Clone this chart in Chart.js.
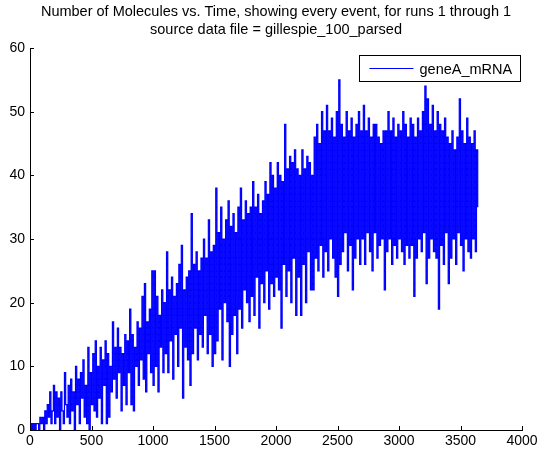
<!DOCTYPE html>
<html>
<head>
<meta charset="utf-8">
<script src="https://cdn.jsdelivr.net/npm/chart.js@4.4.0/dist/chart.umd.min.js"></script>
<style>
  html, body { margin: 0; padding: 0; background: #fff; }
  canvas { display: block; }
</style>
</head>
<body>
<canvas id="molChart" width="542" height="453"></canvas>
<script>
const titleLines = [
  "Number of Molecules vs. Time, showing every event, for runs 1 through 1",
  "source data file = gillespie_100_parsed",
];
const seriesName = "geneA_mRNA";
const xLimits = [0, 4000];
const yLimits = [0, 60];
const xTickStep = 500;
const yTickStep = 10;

// one sample every 10 time units (0 .. 3640)
const timeStep = 10;
const geneAmRNA = [
  0, 1, 0, 1, 0, 1, 1, 0, 2, 1,
  2, 0, 3, 1, 4, 2, 6, 1, 3, 7,
  1, 6, 2, 5, 0, 6, 3, 1, 9, 4,
  2, 7, 1, 8, 3, 6, 0, 10, 4, 8,
  1, 9, 5, 11, 2, 7, 1, 13, 0, 9,
  4, 12, 3, 14, 2, 10, 5, 13, 1, 11,
  7, 14, 1, 12, 2, 10, 6, 17, 8, 13,
  5, 16, 9, 13, 3, 12, 7, 15, 4, 14,
  9, 19, 4, 15, 3, 13, 10, 17, 7, 16,
  11, 21, 8, 23, 6, 17, 12, 19, 9, 25,
  7, 25, 10, 21, 6, 18, 13, 22, 9, 20,
  12, 28, 9, 22, 14, 24, 8, 21, 15, 23,
  10, 26, 16, 29, 5, 22, 13, 24, 11, 25,
  7, 34, 12, 26, 16, 28, 11, 25, 15, 27,
  13, 30, 18, 27, 12, 33, 15, 28, 10, 29,
  12, 38, 14, 31, 19, 35, 11, 30, 20, 33,
  17, 36, 10, 32, 15, 34, 18, 31, 12, 35,
  19, 38, 16, 33, 22, 36, 20, 34, 17, 35,
  21, 39, 18, 35, 24, 37, 16, 34, 23, 36,
  20, 39, 25, 37, 19, 42, 23, 40, 21, 38,
  24, 42, 22, 40, 16, 39, 26, 48, 21, 41,
  25, 43, 20, 42, 27, 44, 18, 41, 24, 40,
  18, 44, 26, 41, 20, 43, 28, 42, 22, 40,
  22, 46, 27, 48, 25, 45, 29, 50, 24, 47,
  28, 51, 25, 47, 30, 49, 27, 46, 24, 50,
  21, 55, 26, 48, 28, 46, 31, 50, 25, 47,
  29, 49, 22, 46, 27, 48, 30, 50, 26, 47,
  30, 51, 26, 47, 31, 49, 28, 46, 25, 48,
  31, 48, 27, 46, 29, 45, 30, 47, 22, 47,
  28, 50, 30, 47, 26, 49, 29, 46, 27, 48,
  30, 47, 28, 50, 26, 48, 29, 46, 27, 49,
  29, 48, 21, 46, 27, 49, 30, 47, 28, 50,
  31, 54, 23, 52, 27, 48, 30, 51, 28, 47,
  27, 50, 19, 48, 29, 47, 26, 49, 31, 46,
  23, 45, 27, 47, 30, 44, 26, 46, 31, 52,
  29, 47, 25, 45, 30, 49, 28, 46, 27, 45,
  30, 47, 28, 44, 35,
];

const points = geneAmRNA.map((v, i) => ({ x: i * timeStep, y: v }));

Chart.defaults.font.family = "'Liberation Sans', Arial, Helvetica, sans-serif";
Chart.defaults.font.size = 14;
Chart.defaults.color = "#000";

// matlab style ticks pointing into the axes
const innerTicks = {
  id: "innerTicks",
  afterDatasetsDraw(chart) {
    const { ctx, chartArea, scales } = chart;
    const len = 4;
    ctx.save();
    ctx.strokeStyle = "#000";
    ctx.lineWidth = 1;
    ctx.beginPath();
    scales.x.ticks.forEach((t) => {
      const px = Math.round(scales.x.getPixelForValue(t.value)) + 0.5;
      ctx.moveTo(px, chartArea.bottom);
      ctx.lineTo(px, chartArea.bottom - len);
    });
    scales.y.ticks.forEach((t) => {
      const py = Math.round(scales.y.getPixelForValue(t.value)) + 0.5;
      ctx.moveTo(chartArea.left, py);
      ctx.lineTo(chartArea.left + len, py);
    });
    ctx.stroke();
    ctx.restore();
  },
};

// boxed legend in the top right corner of the axes
const boxLegend = {
  id: "boxLegend",
  afterDraw(chart) {
    const { ctx, chartArea } = chart;
    const ds = chart.data.datasets[0];
    const w = 161, h = 26;
    const x = Math.round(chartArea.right - w - 2) + 0.5;
    const y = Math.round(chartArea.top + 7) + 0.5;
    ctx.save();
    ctx.fillStyle = "#fff";
    ctx.fillRect(x, y, w, h);
    ctx.strokeStyle = "#000";
    ctx.lineWidth = 1;
    ctx.strokeRect(x, y, w, h);
    ctx.strokeStyle = ds.borderColor;
    ctx.beginPath();
    ctx.moveTo(x + 10, y + h / 2);
    ctx.lineTo(x + 54, y + h / 2);
    ctx.stroke();
    ctx.fillStyle = "#000";
    ctx.font = "14.5px 'Liberation Sans', Arial, sans-serif";
    ctx.textBaseline = "middle";
    ctx.fillText(ds.label, x + 60, y + h / 2 + 1);
    ctx.restore();
  },
};

new Chart(document.getElementById("molChart"), {
  type: "line",
  data: {
    datasets: [
      {
        label: seriesName,
        data: points,
        borderColor: "#0000ff",
        borderWidth: 1.2,
        pointRadius: 0,
        stepped: true,
        fill: false,
      },
    ],
  },
  options: {
    responsive: false,
    animation: false,
    events: [],
    layout: { padding: { left: 0, right: 20, top: 0, bottom: 0 } },
    plugins: {
      legend: { display: false },
      tooltip: { enabled: false },
      title: {
        display: true,
        text: titleLines,
        fullSize: false,
        color: "#000",
        font: { size: 14.5, weight: "normal", lineHeight: "18px" },
        padding: { top: 3, bottom: 9 },
      },
    },
    scales: {
      x: {
        type: "linear",
        min: xLimits[0],
        max: xLimits[1],
        afterFit(scale) { scale.height = 23; },
        ticks: {
          stepSize: xTickStep,
          padding: 3,
          maxRotation: 0,
          autoSkip: false,
          callback: (v) => String(v),
        },
        grid: { drawOnChartArea: false, drawTicks: false },
        border: { color: "#000", width: 1 },
      },
      y: {
        min: yLimits[0],
        max: yLimits[1],
        afterFit(scale) { scale.width = 30; },
        ticks: { stepSize: yTickStep, padding: 5, callback: (v) => String(v) },
        grid: { drawOnChartArea: false, drawTicks: false },
        border: { color: "#000", width: 1 },
      },
    },
  },
  plugins: [innerTicks, boxLegend],
});
</script>
</body>
</html>
